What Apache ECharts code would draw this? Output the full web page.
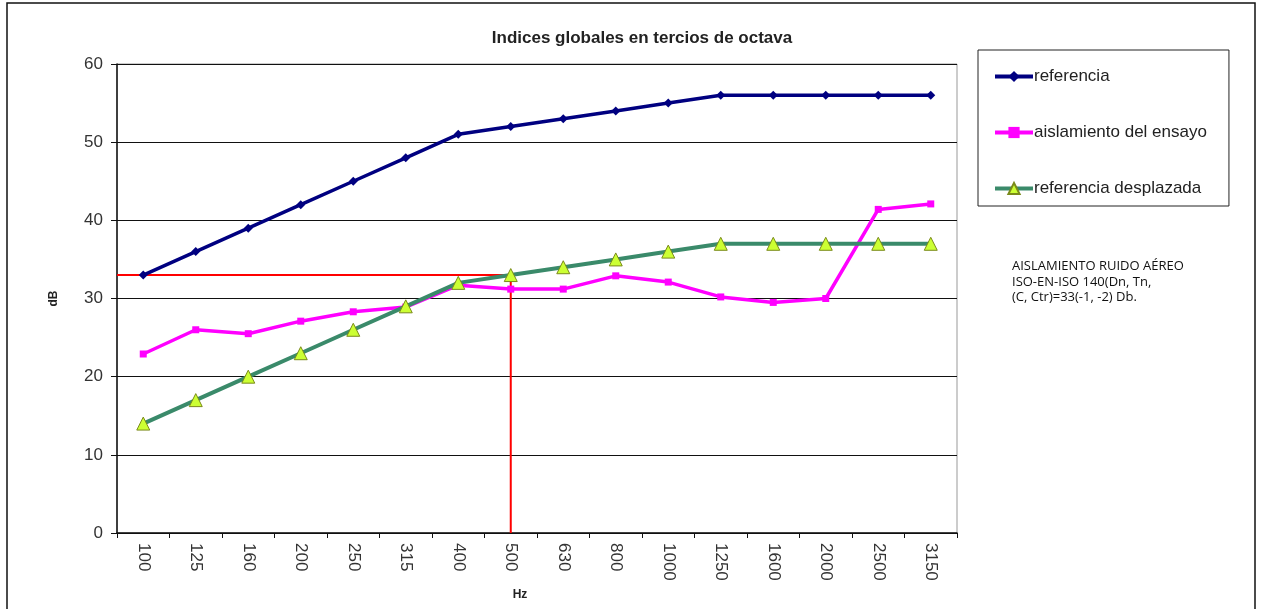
<!DOCTYPE html>
<html>
<head>
<meta charset="utf-8">
<script src="https://cdn.jsdelivr.net/npm/echarts@6/dist/echarts.min.js"></script>
<style>
  html, body { margin: 0; padding: 0; background: #fff; }
  #chart { width: 1261px; height: 609px; }
</style>
</head>
<body>
<div id="chart"></div>
<script>
// bandas de tercio de octava (Hz)
const categories = ['100', '125', '160', '200', '250', '315', '400', '500', '630', '800', '1000', '1250', '1600', '2000', '2500', '3150']
const referencia = [33, 36, 39, 42, 45, 48, 51, 52, 53, 54, 55, 56, 56, 56, 56, 56]
const aislamiento = [22.9, 26, 25.5, 27.1, 28.3, 28.9, 31.7, 31.2, 31.2, 32.9, 32.1, 30.2, 29.5, 30, 41.4, 42.1]
const desplazada = [14, 17, 20, 23, 26, 29, 32, 33, 34, 35, 36, 37, 37, 37, 37, 37]
const yTicks = [0, 10, 20, 30, 40, 50, 60]
const indiceGlobal = 33
const bandaIndice = '500'

// linea roja: desde el eje Y hasta 500 Hz y bajando hasta 0
const bandX = categories.indexOf(bandaIndice) + 0.5
const redLine = [[0, indiceGlobal], [bandX, indiceGlobal], [bandX, yTicks[0]]]

const chart = echarts.init(document.getElementById('chart'))
chart.setOption({
  animation: false,
  textStyle: { fontFamily: 'Liberation Sans, Arial, sans-serif' },
  title: {
    text: 'Indices globales en tercios de octava',
    left: 637,
    textAlign: 'center',
    top: 25,
    textStyle: { fontSize: 17, fontWeight: 'bold', color: '#222' }
  },
  legend: {
    orient: 'vertical',
    left: 978,
    top: 50,
    padding: [18, 22, 9, 15],
    itemGap: 39,
    itemWidth: 38,
    itemHeight: 14,
    borderColor: '#222',
    borderWidth: 1,
    lineStyle: { width: 4 },
    textStyle: { fontSize: 17, color: '#222', padding: [0, 0, 0, -4] },
    data: ['referencia', 'aislamiento del ensayo', 'referencia desplazada']
  },
  graphic: [
    {
      type: 'rect',
      shape: { x: 7, y: 3, width: 1248, height: 620 },
      style: { fill: 'none', stroke: '#111', lineWidth: 1.5 },
      silent: true
    },
    {
      type: 'text',
      left: 1012,
      top: 259,
      style: {
        text: 'AISLAMIENTO RUIDO AÉREO\nISO-EN-ISO 140(Dn, Tn,\n(C, Ctr)=33(-1, -2) Db.',
        font: '13px "Open Sans", sans-serif',
        lineHeight: 15.5,
        fill: '#111'
      }
    }
  ],
  grid: {
    left: 117,
    right: 304,
    top: 64,
    bottom: 76,
    show: true,
    borderColor: '#999',
    borderWidth: 1
  },
  xAxis: [
    {
      type: 'category',
      data: categories,
      boundaryGap: true,
      name: 'Hz',
      nameLocation: 'middle',
      nameGap: 52,
      nameTextStyle: { fontSize: 12, fontWeight: 'bold', color: '#222', padding: [0, 34, 0, 0] },
      axisLine: { lineStyle: { color: '#111', width: 1.5 } },
      axisTick: { show: true, length: 5, lineStyle: { color: '#111' } },
      axisLabel: { rotate: -90, fontSize: 17, color: '#333', margin: 10 },
      splitLine: { show: false }
    },
    {
      type: 'value',
      min: 0,
      max: categories.length,
      show: false
    }
  ],
  yAxis: {
    type: 'value',
    min: yTicks[0],
    max: yTicks[yTicks.length - 1],
    interval: 10,
    name: 'dB',
    nameLocation: 'middle',
    nameGap: 57,
    nameRotate: 90,
    nameTextStyle: { fontSize: 12, fontWeight: 'bold', color: '#222' },
    axisLine: { show: true, lineStyle: { color: '#111', width: 1.5 } },
    axisTick: { show: true, length: 6, lineStyle: { color: '#111' } },
    axisLabel: { fontSize: 17, color: '#333', margin: 14 },
    splitLine: { show: true, lineStyle: { color: '#111', width: 1 } }
  },
  series: [
    {
      name: 'linea indice',
      type: 'line',
      xAxisIndex: 1,
      data: redLine,
      symbol: 'none',
      lineStyle: { color: '#ff0000', width: 2 },
      z: 1
    },
    {
      name: 'referencia',
      type: 'line',
      data: referencia,
      symbol: 'diamond',
      symbolSize: 9,
      color: '#000080',
      lineStyle: { color: '#000080', width: 3.5 },
      itemStyle: { color: '#000080' },
      z: 3
    },
    {
      name: 'aislamiento del ensayo',
      type: 'line',
      data: aislamiento,
      symbol: 'rect',
      symbolSize: 7,
      color: '#ff00ff',
      lineStyle: { color: '#ff00ff', width: 3.5 },
      itemStyle: { color: '#ff00ff' },
      z: 3
    },
    {
      name: 'referencia desplazada',
      type: 'line',
      data: desplazada,
      symbol: 'triangle',
      symbolSize: 13,
      color: '#3a8a6a',
      lineStyle: { color: '#3a8a6a', width: 4 },
      itemStyle: { color: '#ccff33', borderColor: '#7a8a1a', borderWidth: 1 },
      z: 4
    }
  ]
})
</script>
</body>
</html>
